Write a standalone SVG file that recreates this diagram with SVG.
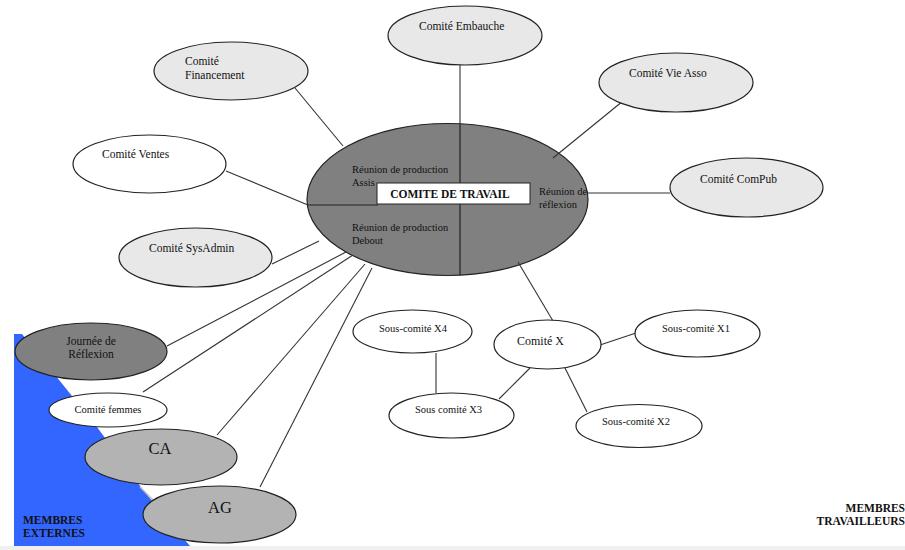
<svg xmlns="http://www.w3.org/2000/svg" width="905" height="550" viewBox="0 0 905 550">
<style>
.e{stroke:#222;stroke-width:1.2}
.lt{fill:#e8e8e8}
.wh{fill:#ffffff}
.dk{fill:#808080}
.md{fill:#b3b3b3}
.c line{stroke:#333;stroke-width:1.1}
text{font-family:"Liberation Serif","Times New Roman",serif;fill:#111}
.t{font-size:11.5px}
.s{font-size:10.5px}
.b{font-weight:bold;font-size:11.5px}
.big{font-size:16.5px}
</style>
<rect x="0" y="0" width="905" height="550" fill="#ffffff"/>
<rect x="0" y="546" width="905" height="4" fill="#f0f0f0"/>
<g id="zone-externes">
<polygon points="14,334 22,334 97,427 143,490 190,546 14,546" fill="#3366ff"/>
<line x1="140" y1="487" x2="158" y2="505" stroke="#bbbbbb" stroke-width="1.5"/>
<text class="b" x="23" y="524">MEMBRES</text>
<text class="b" x="23" y="537">EXTERNES</text>
</g>
<g id="zone-travailleurs">
<text class="b" x="905" y="512" text-anchor="end">MEMBRES</text>
<text class="b" x="905" y="525" text-anchor="end">TRAVAILLEURS</text>
</g>
<g id="comite-travail">
<ellipse class="e dk" cx="447.5" cy="199.5" rx="140.5" ry="76"/>
<line x1="460" y1="124" x2="460" y2="275" stroke="#222" stroke-width="1.2"/>
<line x1="307" y1="205" x2="378" y2="205" stroke="#222" stroke-width="1.2"/>
<text class="s" x="352" y="173">Réunion de production</text>
<text class="s" x="352" y="186">Assis</text>
<text class="s" x="352" y="231">Réunion de production</text>
<text class="s" x="352" y="244">Debout</text>
<text class="s" x="539" y="195">Réunion de</text>
<text class="s" x="539" y="208">réflexion</text>
<rect x="377" y="183" width="153" height="21" fill="#ffffff" stroke="#222" stroke-width="1"/>
<text class="b" x="450" y="198" text-anchor="middle">COMITE DE TRAVAIL</text>
</g>
<g id="connectors" class="c">
<line x1="460" y1="65" x2="460" y2="124"/>
<line x1="295" y1="88" x2="343" y2="146"/>
<line x1="623" y1="101" x2="553" y2="158"/>
<line x1="588" y1="193" x2="670" y2="193"/>
<line x1="226" y1="171" x2="308" y2="205"/>
<line x1="272" y1="264" x2="319" y2="241"/>
<line x1="167" y1="346" x2="346" y2="252"/>
<line x1="143" y1="392" x2="353" y2="255"/>
<line x1="217" y1="435" x2="365" y2="264"/>
<line x1="260" y1="487" x2="372" y2="268"/>
<line x1="518" y1="262" x2="553" y2="321"/>
<line x1="600" y1="345" x2="636" y2="333"/>
<line x1="565" y1="368" x2="587" y2="412"/>
<line x1="530" y1="368" x2="499" y2="399"/>
<line x1="436" y1="353" x2="436" y2="393"/>
</g>
<g id="comite-embauche">
<ellipse class="e lt" cx="465" cy="35.5" rx="77" ry="29.5"/>
<text class="t" x="419" y="30">Comité Embauche</text>
</g>
<g id="comite-financement">
<ellipse class="e lt" cx="231" cy="71" rx="77" ry="29"/>
<text class="t" x="185" y="65">Comité</text>
<text class="t" x="185" y="79">Financement</text>
</g>
<g id="comite-vie-asso">
<ellipse class="e lt" cx="676" cy="82.5" rx="77" ry="29.5"/>
<text class="t" x="629" y="77">Comité Vie Asso</text>
</g>
<g id="comite-compub">
<ellipse class="e lt" cx="746.5" cy="187.5" rx="76.5" ry="29.5"/>
<text class="t" x="700" y="183">Comité ComPub</text>
</g>
<g id="comite-ventes">
<ellipse class="e wh" cx="149.5" cy="164" rx="76.5" ry="29"/>
<text class="t" x="102" y="158">Comité Ventes</text>
</g>
<g id="comite-sysadmin">
<ellipse class="e lt" cx="195.5" cy="257.5" rx="76.5" ry="29.5"/>
<text class="t" x="149" y="252">Comité SysAdmin</text>
</g>
<g id="journee-reflexion">
<ellipse class="e dk" cx="91" cy="351.5" rx="76" ry="28.5"/>
<text class="t" x="91" y="345" text-anchor="middle">Journée de</text>
<text class="t" x="91" y="358" text-anchor="middle">Réflexion</text>
</g>
<g id="comite-femmes">
<ellipse class="e wh" cx="108" cy="410" rx="59" ry="17"/>
<text class="s" x="108" y="413" text-anchor="middle">Comité femmes</text>
</g>
<g id="ca">
<ellipse class="e md" cx="161" cy="457" rx="76" ry="28"/>
<text class="big" x="160" y="454" text-anchor="middle">CA</text>
</g>
<g id="ag">
<ellipse class="e md" cx="219.5" cy="514.5" rx="76.5" ry="28.5"/>
<text class="big" x="220" y="513" text-anchor="middle">AG</text>
</g>
<g id="comite-x">
<ellipse class="e wh" cx="547.5" cy="344.5" rx="53.5" ry="24.5"/>
<text x="517" y="345" style="font-size:12px">Comité X</text>
</g>
<g id="sous-comite-x4">
<ellipse class="e wh" cx="412.5" cy="331.5" rx="59.5" ry="21.5"/>
<text class="s" x="379" y="332">Sous-comité X4</text>
</g>
<g id="sous-comite-x3">
<ellipse class="e wh" cx="451.5" cy="415.5" rx="62.5" ry="22.5"/>
<text class="s" x="415" y="413">Sous comité X3</text>
</g>
<g id="sous-comite-x1">
<ellipse class="e wh" cx="697.5" cy="333.5" rx="62.5" ry="23.5"/>
<text class="s" x="662" y="332">Sous-comité X1</text>
</g>
<g id="sous-comite-x2">
<ellipse class="e wh" cx="639" cy="426" rx="63" ry="21.5"/>
<text class="s" x="602" y="425">Sous-comité X2</text>
</g>
</svg>
